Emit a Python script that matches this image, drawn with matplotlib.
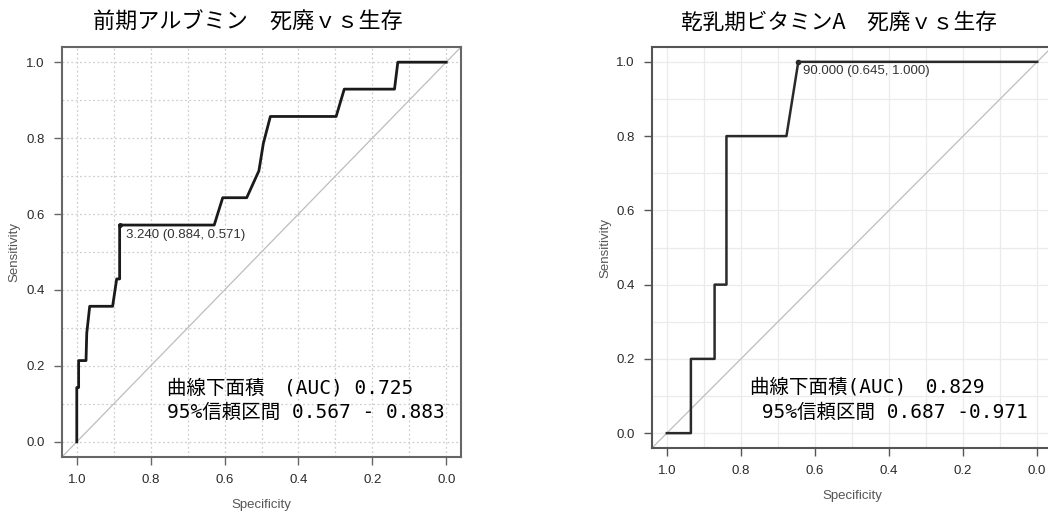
import matplotlib
matplotlib.use("Agg")
import matplotlib.pyplot as plt
from matplotlib.ticker import FixedLocator

plt.rcParams['font.family'] = ['Liberation Sans', 'Noto Sans CJK JP', 'DejaVu Sans']

# ---- data ----
left_title = "前期アルブミン　死廃ｖｓ生存"
right_title = "乾乳期ビタミンA　死廃ｖｓ生存"

spec_left = [1.000, 1.000, 0.995, 0.995, 0.975, 0.973, 0.965, 0.903, 0.892, 0.884,
             0.884, 0.628, 0.605, 0.540, 0.507, 0.495, 0.476, 0.298, 0.276, 0.140,
             0.131, 0.000]
sens_left = [0.000, 0.143, 0.143, 0.214, 0.214, 0.286, 0.357, 0.357, 0.429, 0.429,
             0.571, 0.571, 0.643, 0.643, 0.714, 0.786, 0.857, 0.857, 0.929, 0.929,
             1.000, 1.000]
best_left = (0.884, 0.571)
best_left_label = "3.240 (0.884, 0.571)"
auc_left_lines = ["曲線下面積　(AUC) 0.725", "95%信頼区間 0.567 - 0.883"]

spec_right = [1.000, 0.935, 0.935, 0.871, 0.871, 0.839, 0.839, 0.677, 0.645, 0.000]
sens_right = [0.000, 0.000, 0.200, 0.200, 0.400, 0.400, 0.800, 0.800, 1.000, 1.000]
best_right = (0.645, 1.000)
best_right_label = "90.000 (0.645, 1.000)"
auc_right_lines = ["曲線下面積(AUC)　0.829", " 95%信頼区間 0.687 -0.971"]

ticks = [1.0, 0.8, 0.6, 0.4, 0.2, 0.0]
tick_labels = ["1.0", "0.8", "0.6", "0.4", "0.2", "0.0"]
minor_ticks = [0.1, 0.3, 0.5, 0.7, 0.9]

W, H = 1048, 512
fig = plt.figure(figsize=(W / 100, H / 100), dpi=100)

def make_ax(x0, y0, x1, y1):
    return fig.add_axes([x0 / W, 1 - y1 / H, (x1 - x0) / W, (y1 - y0) / H])

axL = make_ax(62, 47, 461, 457)
axR = make_ax(652, 47, 1052, 448)

cjk = ['Noto Sans CJK JP', 'DejaVu Sans']
mono_cjk = ['DejaVu Sans Mono', 'Noto Sans CJK JP']

def style(ax, grid_ls, grid_color, spine_color, xlab_y, ylab_x):
    ax.set_xlim(1.04, -0.04)
    ax.set_ylim(-0.04, 1.04)
    ax.set_xticks(ticks)
    ax.set_xticklabels(tick_labels)
    ax.set_yticks(ticks)
    ax.set_yticklabels(tick_labels)
    ax.xaxis.set_minor_locator(FixedLocator(minor_ticks))
    ax.yaxis.set_minor_locator(FixedLocator(minor_ticks))
    ax.tick_params(which='minor', length=0)
    ax.tick_params(which='major', length=6, width=1.0, color=spine_color,
                   labelsize=9.5, labelcolor='#2a2a2a', pad=6.5)
    ax.grid(True, which='both', linestyle=grid_ls, color=grid_color, linewidth=0.9)
    ax.set_axisbelow(True)
    for s in ax.spines.values():
        s.set_color(spine_color)
        s.set_linewidth(1.5)
    ax.set_xlabel("Specificity", fontsize=9.5, color='#555555')
    ax.set_ylabel("Sensitivity", fontsize=9.5, color='#555555')
    ax.xaxis.set_label_coords(0.5, xlab_y)
    ax.yaxis.set_label_coords(ylab_x, 0.5)
    ax.axline((1, 0), (0, 1), color='#bdbdbd', linewidth=0.9, zorder=1)

style(axL, (0, (1.5, 2.0)), '#cfcfcf', '#666666', -0.102, -0.103)
style(axR, '-', '#ebebeb', '#555555', -0.105, -0.1025)

axL.plot(spec_left, sens_left, color='#1a1a1a', linewidth=2.0, zorder=3)
axL.plot([best_left[0]], [best_left[1]], 'o', color='#1a1a1a', markersize=2.5, zorder=4)
axL.text(0.868, 0.546, best_left_label, fontsize=9.5, color='#333333', va='center', ha='left')

axR.plot(spec_right, sens_right, color='#2a2a2a', linewidth=1.8, zorder=3)
axR.plot([best_right[0]], [best_right[1]], 'o', color='#2a2a2a', markersize=3, zorder=4)
axR.text(0.632, 0.976, best_right_label, fontsize=9.5, color='#333333', va='center', ha='left')

auc_size = 14
axL.text(0.757, 0.142, auc_left_lines[0], fontsize=auc_size, family=mono_cjk, va='center', ha='left', color='black')
axL.text(0.757, 0.077, auc_left_lines[1], fontsize=auc_size, family=mono_cjk, va='center', ha='left', color='black')
axR.text(0.776, 0.124, auc_right_lines[0], fontsize=auc_size, family=mono_cjk, va='center', ha='left', color='black')
axR.text(0.776, 0.056, auc_right_lines[1], fontsize=auc_size, family=mono_cjk, va='center', ha='left', color='black')

fig.text(248 / W, 1 - 23 / H, left_title, fontsize=15.9, family=cjk,
         ha='center', va='center', color='black')
fig.text(839 / W, 1 - 23 / H, right_title, fontsize=15.6, family=cjk,
         ha='center', va='center', color='black')

fig.savefig("out.png", dpi=100, facecolor='white')
